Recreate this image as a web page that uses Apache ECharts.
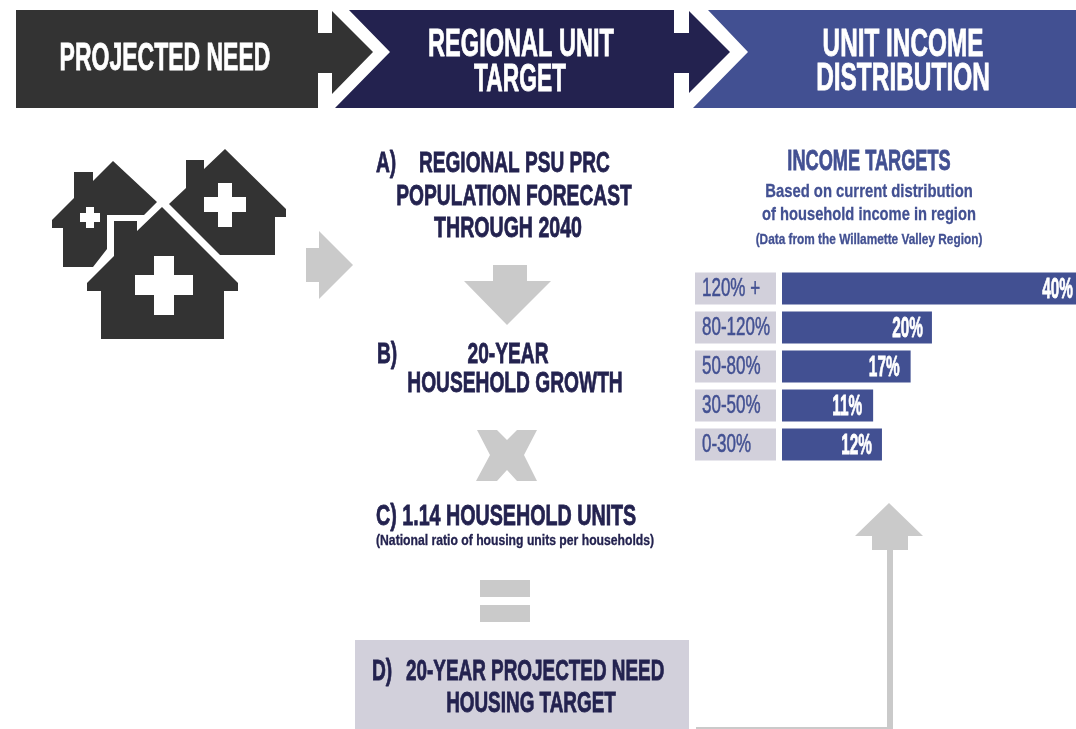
<!DOCTYPE html>
<html>
<head>
<meta charset="utf-8">
<title>Projected need to unit income distribution</title>
<script src="https://cdn.jsdelivr.net/npm/echarts@6/dist/echarts.min.js"></script>
<style>
  html, body { margin: 0; padding: 0; background: #fff; }
  #chart { width: 1076px; height: 729px; }
</style>
</head>
<body>
<div id="chart"></div>
<script>
// income bands, top to bottom
var categories = ['120% +', '80-120%', '50-80%', '30-50%', '0-30%'];
// printed percentages
var barLabels = [40, 20, 17, 11, 12];
// bar lengths as drawn: the source bars do not quite follow their printed labels
var barLengths = [40, 20.4, 17.5, 12.4, 13.6];

var DARK = '#333333', NAVY = '#23224f', BLUE = '#425092', BOX = '#d2d0db', ARROW = '#cacaca';
var FONT = '"Liberation Sans", sans-serif';

// gap between the end of each bar and its label
var labelGaps = [3, 9, 11, 11, 10];

// [text, x, y, font size, colour, align, horizontal scale]
var texts = [
    ['PROJECTED NEED', 165, 58, 38, '#fff', 'center', 0.605],
    ['REGIONAL UNIT', 521, 44, 38, '#fff', 'center', 0.62],
    ['TARGET', 520, 79, 38, '#fff', 'center', 0.6],
    ['UNIT INCOME', 903, 44, 38, '#fff', 'center', 0.64],
    ['DISTRIBUTION', 903, 78, 38, '#fff', 'center', 0.643],
    ['A)', 376, 163, 30, NAVY, 'left', 0.64],
    ['REGIONAL PSU PRC', 419, 163, 30, NAVY, 'left', 0.636],
    ['POPULATION FORECAST', 514, 196, 30, NAVY, 'center', 0.64],
    ['THROUGH 2040', 508, 228, 30, NAVY, 'center', 0.652],
    ['B)', 377, 354, 30, NAVY, 'left', 0.64],
    ['20-YEAR', 508, 354, 30, NAVY, 'center', 0.64],
    ['HOUSEHOLD GROWTH', 515, 383, 30, NAVY, 'center', 0.64],
    ['C) 1.14 HOUSEHOLD UNITS', 376, 516, 30, NAVY, 'left', 0.656],
    ['(National ratio of housing units per households)', 376, 541, 14, NAVY, 'left', 0.87],
    ['D)', 372, 671, 30, NAVY, 'left', 0.64],
    ['20-YEAR PROJECTED NEED', 406, 671, 30, NAVY, 'left', 0.63],
    ['HOUSING TARGET', 531, 703, 30, NAVY, 'center', 0.63],
    ['INCOME TARGETS', 869, 161, 30, BLUE, 'center', 0.606],
    ['Based on current distribution', 869, 191, 19, BLUE, 'center', 0.78],
    ['of household income in region', 869, 214, 19, BLUE, 'center', 0.773],
    ['(Data from the Willamette Valley Region)', 869, 240, 14, BLUE, 'center', 0.845]
];

// outline points of the banners, houses and arrows
var shapes = [
    [DARK, [[16,10],[318,10],[318,33],[332,33],[332,11],[373,52],[332,94],[332,73],[318,73],[318,108],[16,108]]],
    [NAVY, [[349,10],[674,10],[674,33],[689,33],[689,11],[730,52],[689,93],[689,73],[674,73],[674,108],[335,108],[390,52]]],
    [BLUE, [[708,10],[1076,10],[1076,108],[693,108],[748,52]]],
    // houses
    [DARK, [[225,149],[286,209],[286,217],[275,217],[275,255],[220,255],[169,204],[186,188],[186,160],[204,160],[204,169]]],
    [DARK, [[113,161],[157,202],[144,215],[107,215],[107,249],[93,267],[63,267],[63,228],[52,228],[52,220],[74,198],[74,172],[93,172],[93,181]]],
    [DARK, [[162,207],[238,283],[238,291],[224,291],[224,339],[101,339],[101,291],[87,291],[87,283],[114,256],[114,221],[137,221],[137,231]]],
    // plus signs
    ['#fff', [[218,183],[232,183],[232,197],[246,197],[246,212],[232,212],[232,227],[218,227],[218,212],[204,212],[204,197],[218,197]]],
    ['#fff', [[86,207],[94,207],[94,213],[100,213],[100,222],[94,222],[94,228],[86,228],[86,222],[80,222],[80,213],[86,213]]],
    ['#fff', [[154,256],[174,256],[174,275],[193,275],[193,295],[174,295],[174,315],[154,315],[154,295],[135,295],[135,275],[154,275]]],
    // step arrows
    [ARROW, [[319,231],[353,265],[319,299],[319,282],[306,282],[306,248],[319,248]]],
    [ARROW, [[493,265],[527,265],[527,281],[551,281],[507,325],[464,281],[493,281]]],
    [ARROW, [[477,430],[497,430],[507,440],[517,430],[537,430],[524,455],[537,481],[517,481],[507,470],[497,481],[476,481],[490,455]]],
    [ARROW, [[480,580],[530,580],[530,597],[480,597]]],
    [ARROW, [[480,605],[530,605],[530,622],[480,622]]],
    [ARROW, [[889,503],[923,536],[908,536],[908,550],[893,550],[893,729],[696,729],[696,727],[887,727],[887,550],[872,550],[872,536],[855,536]]],
    // target box
    [BOX, [[355,640],[689,640],[689,729],[355,729]]]
];

var graphic = [];
shapes.forEach(function (s) {
    graphic.push({
        type: 'polygon',
        shape: { points: s[1] },
        style: { fill: s[0] }
    });
});
texts.forEach(function (t) {
    graphic.push({
        type: 'text',
        x: t[1],
        y: t[2] + t[3] * 0.04,
        scaleX: t[6],
        z: 10,
        style: {
            text: t[0],
            fill: t[4],
            stroke: t[4],
            lineWidth: t[3] > 20 ? 0.8 : 0.3,
            textAlign: t[5],
            textVerticalAlign: 'middle',
            font: 'bold ' + t[3] + 'px ' + FONT
        }
    });
});

// no narrow font is installed, so the row labels are squeezed text elements
function renderRow(params, api) {
    var i = api.value(1);
    var end = api.coord([api.value(0), i]);
    return {
        type: 'group',
        children: [{
            type: 'rect',
            shape: { x: 695, y: end[1] - 16, width: 81, height: 32 },
            style: { fill: BOX }
        }, {
            type: 'text',
            x: 702,
            y: end[1] + 1,
            scaleX: 0.68,
            style: {
                text: categories[i],
                fill: BLUE,
                stroke: BLUE,
                lineWidth: 0.5,
                textAlign: 'left',
                textVerticalAlign: 'middle',
                font: '25px ' + FONT
            }
        }, {
            type: 'text',
            x: end[0] - labelGaps[i],
            y: end[1] + 1,
            scaleX: 0.53,
            style: {
                text: barLabels[i] + '%',
                fill: '#fff',
                stroke: '#fff',
                lineWidth: 0.8,
                textAlign: 'right',
                textVerticalAlign: 'middle',
                font: 'bold 29px ' + FONT
            }
        }]
    };
}

var chart = echarts.init(document.getElementById('chart'));
chart.setOption({
    animation: false,
    backgroundColor: '#fff',
    graphic: graphic,
    grid: { left: 782, top: 269, width: 294, height: 195 },
    xAxis: { type: 'value', min: 0, max: 40, show: false },
    yAxis: { type: 'category', inverse: true, data: categories, show: false },
    series: [{
        type: 'bar',
        z: 2,
        data: barLengths,
        barWidth: 32,
        itemStyle: { color: BLUE }
    }, {
        type: 'custom',
        z: 5,
        clip: false,
        renderItem: renderRow,
        encode: { x: 0, y: 1 },
        data: barLengths.map(function (v, i) { return [v, i]; })
    }]
});
</script>
</body>
</html>
